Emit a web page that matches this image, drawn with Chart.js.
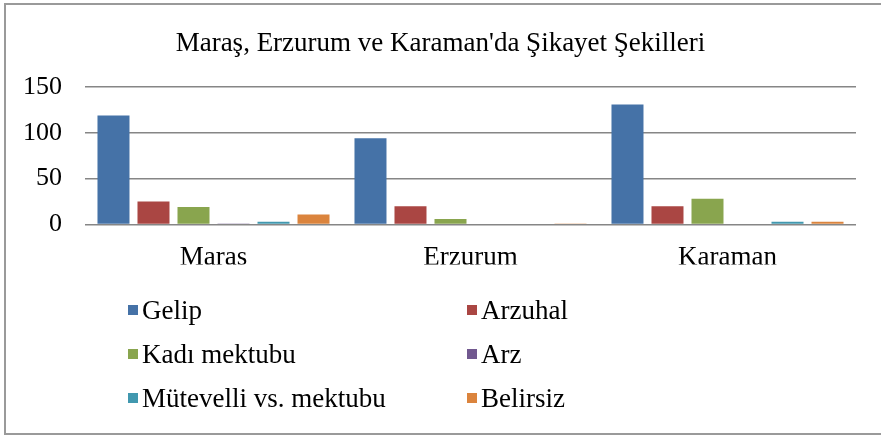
<!DOCTYPE html>
<html><head><meta charset="utf-8">
<script src="https://cdn.jsdelivr.net/npm/chart.js@4/dist/chart.umd.min.js"></script>
<style>
html,body{margin:0;padding:0;background:#fff;}
#wrap{position:relative;width:881px;height:439px;overflow:hidden;font-family:"Liberation Serif","Times New Roman",serif;color:#000;}
#frame{position:absolute;left:4px;top:3px;width:900px;height:432px;border:2px solid #9a9a9a;box-sizing:border-box;}
#title{position:absolute;left:0;width:881px;top:24px;text-align:center;font-family:"Liberation Serif",serif;font-size:27px;line-height:36px;}
#c{position:absolute;left:0;top:0;}
#legend{position:absolute;left:128px;top:288px;display:grid;grid-template-columns:339px 300px;grid-auto-rows:44px;font-family:"Liberation Serif",serif;font-size:27px;}
.li{display:flex;align-items:center;white-space:nowrap;}
.sw{width:10px;height:10px;margin-right:4px;flex:none;}
</style></head>
<body>
<div id="wrap">
  <div id="frame"></div>
  <canvas id="c" width="881" height="439"></canvas>
  <div id="title">Maraş, Erzurum ve Karaman'da Şikayet Şekilleri</div>
  <div id="legend"></div>
</div>
<script>
const categories = ["Maraş", "Erzurum", "Karaman"];
const seriesNames = ["Gelip", "Arzuhal", "Kadı mektubu", "Arz", "Mütevelli vs. mektubu", "Belirsiz"];
const gelip = [119, 94, 131];
const arzuhal = [25, 20, 20];
const kadiMektubu = [19, 6, 28];
const arz = [1, 0, 0];
const mutevelli = [3, 0, 3];
const belirsiz = [11, 1, 3];
const yTicks = [0, 50, 100, 150];
const colors = ["#4572A7", "#AA4643", "#89A54E", "#71588F", "#4198AF", "#DB843D"];

const values = [gelip, arzuhal, kadiMektubu, arz, mutevelli, belirsiz];
const datasets = seriesNames.map((n, i) => ({
  label: n,
  data: values[i],
  backgroundColor: colors[i],
  borderWidth: 0,
  barPercentage: 0.8,
  categoryPercentage: 0.934
}));

const legend = document.getElementById("legend");
seriesNames.forEach((n, i) => {
  const d = document.createElement("div");
  d.className = "li";
  d.innerHTML = '<span class="sw" style="background:' + colors[i] + '"></span><span>' + n + '</span>';
  legend.appendChild(d);
});

const serif = "'Liberation Serif', 'Times New Roman', serif";
new Chart(document.getElementById("c"), {
  type: "bar",
  data: { labels: categories, datasets },
  options: {
    responsive: false,
    animation: false,
    layout: { padding: { left: 5, right: 25, top: 87, bottom: 174.5 } },
    plugins: { legend: { display: false }, title: { display: false }, tooltip: { enabled: false } },
    scales: {
      x: {
        grid: { display: false, drawTicks: false },
        border: { display: false },
        ticks: { color: "#000", font: { family: serif, size: 27 }, padding: 17 },
        afterFit: s => { s.height = 40; }
      },
      y: {
        min: 0, max: 150,
        afterBuildTicks: s => { s.ticks = yTicks.map(v => ({ value: v })); },
        grid: { color: "#868686", lineWidth: 1.6, drawTicks: false },
        border: { display: false },
        ticks: { color: "#000", font: { family: serif, size: 26 }, padding: 23 },
        afterFit: s => { s.width = 80; }
      }
    }
  }
});
</script>
</body></html>
